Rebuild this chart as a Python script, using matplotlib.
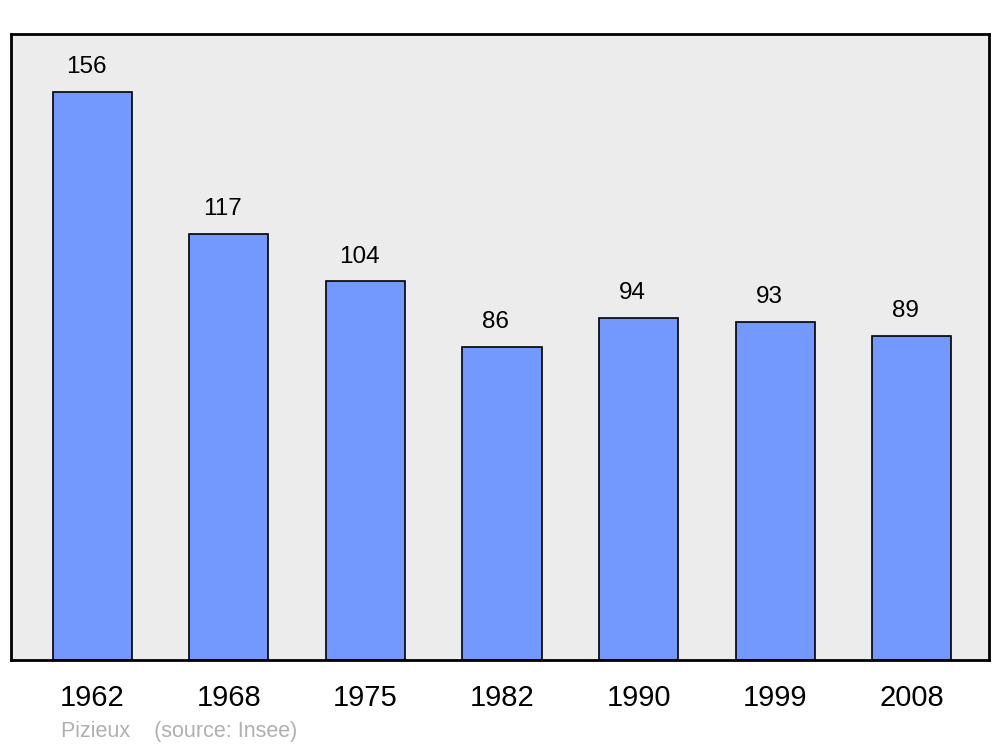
import matplotlib
matplotlib.use("Agg")
import matplotlib.pyplot as plt

years = ["1962", "1968", "1975", "1982", "1990", "1999", "2008"]
population = [156, 117, 104, 86, 94, 93, 89]

plt.rcParams['font.family'] = ['Liberation Sans', 'DejaVu Sans']

fig = plt.figure(figsize=(10, 7.47), dpi=100)
ax = fig.add_axes([0.011, 1 - 660 / 747, 0.978, (660 - 34) / 747])
ax.set_facecolor('#ececec')

x = list(range(len(years)))
ax.bar(x, population, width=0.58, color='#7399ff', edgecolor='black', linewidth=1.2, zorder=2)

for xi, v in zip(x, population):
    ax.text(xi - 0.045, v + 6.85, str(v), ha='center', va='center', fontsize=17.5)

ax.set_xlim(-0.595, 6.565)
ax.set_ylim(0, 172)
ax.set_yticks([])
ax.set_xticks(x)
ax.set_xticklabels(years, fontsize=21)
ax.tick_params(axis='x', length=0, pad=17)
for s in ax.spines.values():
    s.set_linewidth(2)

fig.text(0.061, 1 - 732 / 747, "Pizieux    (source: Insee)", color='#b0b0b0',
         fontsize=15.5, va='center')

fig.savefig("out.png", dpi=100)
